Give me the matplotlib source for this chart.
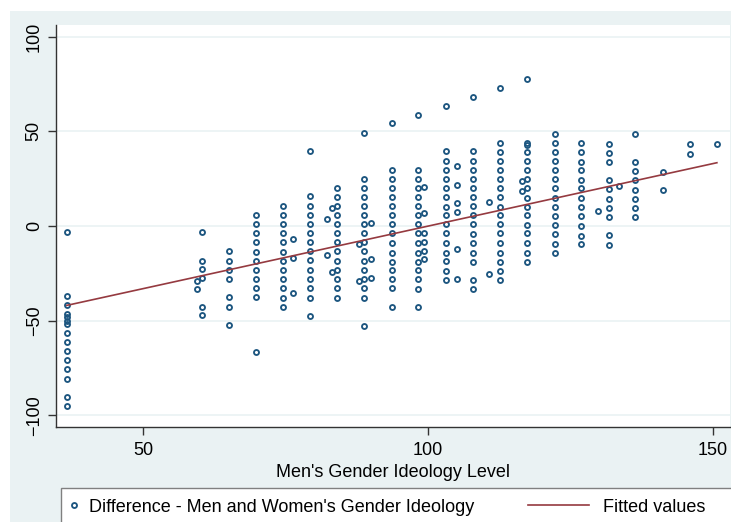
import matplotlib
matplotlib.use("Agg")
from matplotlib import pyplot as plt
from matplotlib.patches import Rectangle

plt.rcParams["font.family"] = ["Liberation Sans", "DejaVu Sans"]

# Men's ideology level (x) for each stacked column of observations
col_x = [36.6, 60.4, 65.1, 69.8, 74.6, 79.3, 84.0, 88.8, 93.6, 98.3, 103.1,
         107.9, 112.6, 117.4, 122.2, 126.9, 131.7, 136.4, 141.2, 146.0, 150.7]

# Difference (men - women) for the observations in each column
col_y = [
    [-3.3, -36.8, -41.9, -46.6, -47.9, -50.0, -51.8, -56.7, -61.1, -66.0, -70.8, -75.7, -80.5, -90.5, -95.1],
    [-3.3, -18.3, -22.7, -27.6, -42.6, -47.0],
    [-13.0, -18.3, -23.2, -27.8, -37.5, -42.6, -52.1],
    [6.0, 1.0, -3.5, -8.6, -13.7, -18.3, -23.2, -27.8, -32.7, -37.5, -66.7],
    [10.6, 6.0, 1.0, -3.5, -8.6, -13.7, -18.3, -23.2, -27.8, -32.7, -37.8, -42.6],
    [39.4, 15.7, 10.6, 5.6, 0.9, -3.9, -8.6, -13.4, -18.1, -23.2, -28.1, -32.9, -37.8, -47.5],
    [20.2, 15.3, 10.6, 5.6, 0.9, -3.9, -8.6, -13.4, -18.5, -23.2, -28.1, -32.9, -37.8],
    [49.1, 24.8, 20.2, 15.3, 10.6, 5.6, 0.9, -3.9, -8.6, -13.4, -18.5, -23.2, -28.1, -32.9, -37.8, -52.6],
    [54.2, 29.7, 24.8, 20.2, 15.3, 10.6, 5.6, 0.9, -3.9, -9.1, -14.1, -18.8, -23.2, -28.1, -32.9, -42.9],
    [58.6, 29.7, 24.8, 20.2, 15.3, 10.6, 5.6, 0.9, -3.9, -9.1, -14.1, -18.8, -23.2, -28.1, -33.4, -42.9],
    [63.2, 39.4, 34.3, 29.7, 24.8, 19.9, 15.3, 10.0, 5.6, 0.9, -3.9, -9.1, -14.1, -18.5, -23.8, -28.5],
    [68.3, 39.4, 34.3, 29.4, 24.8, 19.9, 15.3, 10.6, 5.6, 0.9, -4.2, -9.1, -14.1, -18.8, -28.5, -33.4],
    [72.7, 44.0, 38.9, 34.3, 29.4, 24.8, 19.9, 15.3, 10.2, 5.6, 0.9, -3.9, -8.8, -14.1, -18.8, -23.8, -28.4],
    [77.8, 44.0, 42.8, 38.9, 34.3, 29.4, 24.8, 19.9, 14.9, 10.2, 5.6, 0.5, -3.9, -9.1, -14.1, -18.8],
    [48.6, 44.0, 38.9, 34.3, 29.4, 24.8, 19.9, 14.9, 10.2, 5.3, 0.5, -4.2, -9.5, -14.1],
    [44.0, 38.9, 33.8, 29.4, 24.3, 19.9, 14.9, 10.2, 5.3, 0.0, -5.1, -9.5],
    [43.5, 38.7, 33.6, 24.3, 19.4, 14.4, 9.5, 4.9, -4.8, -9.9],
    [48.4, 33.6, 29.0, 24.3, 19.0, 14.4, 9.5, 4.9],
    [28.7, 19.0],
    [43.3, 38.2],
    [43.3],
]

# Observations that fall between the main columns
extra_x = [59.5, 59.5, 76.3, 76.3, 76.3, 82.2, 82.2, 83.1, 83.1, 87.9, 87.9,
           90.0, 90.0, 90.0, 99.3, 99.3, 99.3, 99.3, 99.3, 99.3,
           105.1, 105.1, 105.1, 105.1, 105.1, 105.1, 110.7, 110.7,
           116.5, 116.5, 129.8, 133.6]
extra_y = [-28.9, -33.4, -6.9, -16.9, -35.5, 3.7, -15.3, 9.5, -24.3, -9.7, -28.9,
           1.7, -17.6, -27.3, 20.8, 6.7, -3.5, -8.3, -13.2, -17.6,
           31.5, 21.8, 12.3, 7.2, -12.0, -27.8, 12.8, -25.5,
           23.6, 18.5, 7.9, 21.3]

# Linear fit, evaluated at the smallest and largest x
fit_x = [36.6, 150.7]
fit_y = [-41.9, 33.4]

xs = [x for x, ys in zip(col_x, col_y) for _ in ys] + extra_x
ys = [y for col in col_y for y in col] + extra_y

navy = "#1d5680"
maroon = "#953a40"
band = "#eaf2f3"
fs = 13

fig = plt.figure(figsize=(7.31, 5.22), dpi=100, facecolor="white")
fig.patches.append(Rectangle((10 / 731, 0), 1, 1 - 11 / 522, transform=fig.transFigure,
                             facecolor=band, edgecolor="none", zorder=-10))
ax = fig.add_axes([56 / 731, 1 - 427 / 522, (730 - 56) / 731, (427 - 25) / 522])
ax.set_facecolor("white")

pts, = ax.plot(xs, ys, linestyle="none", marker="o", markersize=3.6,
               markerfacecolor="none", markeredgecolor=navy, markeredgewidth=1.35)
fit, = ax.plot(fit_x, fit_y, color=maroon, linewidth=1.2)

ax.set_xlim(34.7, 153.0)
ax.set_ylim(-106.1, 106.1)
ax.set_xticks([50, 100, 150])
ax.set_yticks([-100, -50, 0, 50, 100])
ax.yaxis.grid(True, color=band, linewidth=1.2)
ax.set_axisbelow(True)
for side in ("top", "right"):
    ax.spines[side].set_visible(False)
for side in ("left", "bottom"):
    ax.spines[side].set_color("#333333")
    ax.spines[side].set_linewidth(1.0)
ax.tick_params(axis="both", direction="out", length=5.5, width=1.0, color="#333333",
               labelsize=fs, labelcolor="black")
ax.tick_params(axis="x", pad=5)
ax.tick_params(axis="y", pad=4)
for lab in ax.get_yticklabels():
    lab.set_rotation(90)
    lab.set_verticalalignment("center")
ax.set_xlabel("Men's Gender Ideology Level", fontsize=fs, labelpad=4)

# legend box runs off the bottom/right edge
fig.patches.append(Rectangle((61 / 731, -0.2), 1.0, 0.2 + 1 - 488 / 522, transform=fig.transFigure,
                             facecolor="white", edgecolor="#808080", linewidth=1.0, zorder=-5))
leg_y = 1 - 507 / 522
leg1 = fig.legend([pts], ["Difference - Men and Women's Gender Ideology"], loc="center left",
                  bbox_to_anchor=(56 / 731, leg_y), frameon=False, borderpad=0,
                  handlelength=1.0, handletextpad=0.35, fontsize=fs)
leg2 = fig.legend([fit], ["Fitted values"], loc="center right",
                  bbox_to_anchor=(714 / 731, leg_y), frameon=False, borderpad=0,
                  handlelength=3.4, handletextpad=0.75, fontsize=fs)

fig.savefig("out.png", dpi=100)
